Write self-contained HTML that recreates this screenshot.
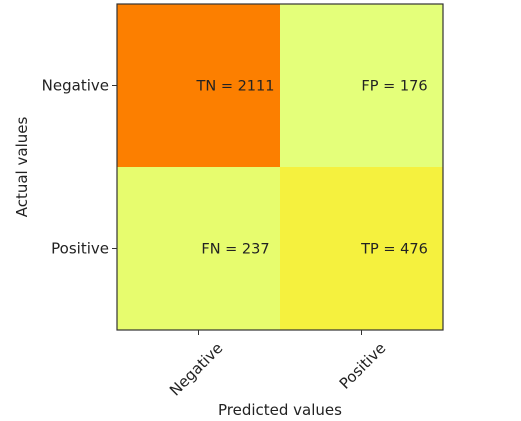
<!DOCTYPE html>
<html><head><meta charset="utf-8"><style>
html,body{margin:0;padding:0;background:#fff;width:521px;height:421px;overflow:hidden}
text{font-family:"DejaVu Sans","Liberation Sans",sans-serif;fill:#222}
</style></head><body>
<svg id="chart" width="521" height="421" viewBox="0 0 521 421"></svg>
<script>
const rowLabels = ["Negative","Positive"];
const colLabels = ["Negative","Positive"];
const cellNames = [["TN","FP"],["FN","TP"]];
const cellValues = [[2111,176],[237,476]];

const svg = document.getElementById('chart');
const NS = 'http://www.w3.org/2000/svg';
const L = 117, T = 4, W = 326, H = 326;
const cw = W / colLabels.length, ch = H / rowLabels.length;
const xOf = j => L + j * cw;
const yOf = i => T + i * ch;
const flat = cellValues.flat();
const vmin = Math.min(...flat), vmax = Math.max(...flat);
const stops = [[0,[228,255,122]],[0.25,[255,232,26]],[0.5,[255,189,0]],[0.75,[255,160,0]],[1,[252,127,0]]];
function color(v){
  const t = (v - vmin) / (vmax - vmin || 1);
  for (let k = 0; k < stops.length - 1; k++) {
    const [a, ca] = stops[k], [b, cb] = stops[k+1];
    if (t <= b) { const f = (t - a) / (b - a); return 'rgb(' + ca.map((c, m) => Math.round(c + (cb[m] - c) * f)).join(',') + ')'; }
  }
  return 'rgb(252,127,0)';
}
function mk(tag, attrs, txt){
  const e = document.createElementNS(NS, tag);
  for (const k in attrs) e.setAttribute(k, attrs[k]);
  if (txt !== undefined) e.textContent = txt;
  svg.appendChild(e); return e;
}
for (let i = 0; i < rowLabels.length; i++) for (let j = 0; j < colLabels.length; j++) {
  const r = mk('rect', {x: xOf(j), y: yOf(i), width: cw, height: ch, fill: color(cellValues[i][j])});
  
  
  const t = mk('text', {x: xOf(j) + cw/2 + (j===0 ? 37 : 33), y: yOf(i) + ch/2 + 5, 'font-size': 14.5, 'text-anchor': 'middle'}, cellNames[i][j] + ' = ' + cellValues[i][j]);
  
  
}
const fr = mk('rect', {x: L, y: T, width: W, height: H, fill: 'none', stroke: '#333', 'stroke-width': 1.2});


rowLabels.forEach((lab, i) => {
  const y = yOf(i) + ch/2;
  const tk = mk('line', {x1: L - 5, x2: L, y1: y, y2: y, stroke: '#333'});
  
  
  const t = mk('text', {x: L - 8, y: y + 5, 'font-size': 15, 'text-anchor': 'end'}, lab);
  
  
});
colLabels.forEach((lab, j) => {
  const x = xOf(j) + cw/2;
  const tk = mk('line', {x1: x, x2: x, y1: T + H, y2: T + H + 5, stroke: '#333'});
  
  
  const tx = x + 25, ty = T + H + 19;
  const t = mk('text', {x: tx, y: ty, 'font-size': 15, 'text-anchor': 'end', transform: 'rotate(-45 ' + tx + ' ' + ty + ')'}, lab);
  
  
});
const xl = mk('text', {x: 280, y: 415, 'font-size': 15, 'text-anchor': 'middle'}, 'Predicted values');


const yl = mk('text', {x: 27, y: 167, 'font-size': 15, 'text-anchor': 'middle', transform: 'rotate(-90 27 167)'}, 'Actual values');


</script>
</body></html>
